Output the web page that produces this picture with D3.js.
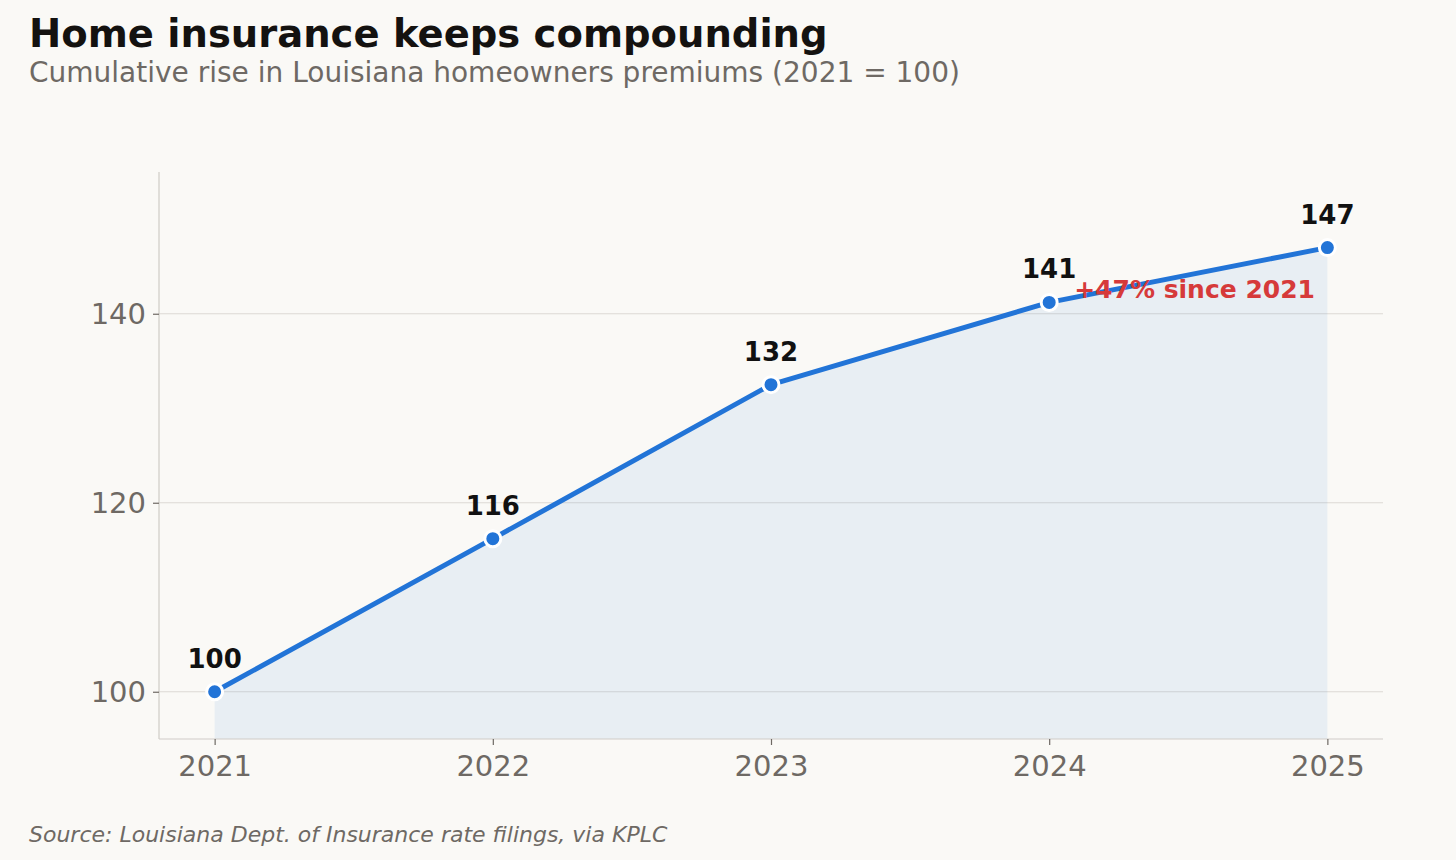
<!DOCTYPE html>
<html>
<head>
<meta charset="utf-8">
<script src="https://cdn.jsdelivr.net/npm/d3@7"></script>
<style>
  body { margin: 0; background: #faf9f6; }
  svg { display: block; font-family: "DejaVu Sans", sans-serif; }
</style>
</head>
<body>
<svg id="chart" width="1456" height="860"></svg>
<script>
const years = [2021, 2022, 2023, 2024, 2025]
const premiumIndex = [100, 116.2, 132.5, 141.2, 147]
const pointLabels = ["100", "116", "132", "141", "147"]
const yTicks = [100, 120, 140]

const margin = {top: 172, right: 73, bottom: 121, left: 159}
const width = 1456 - margin.left - margin.right
const height = 860 - margin.top - margin.bottom

const svg = d3.select('#chart')

svg.append('rect').attr('width', 1456).attr('height', 860).attr('fill', '#faf9f6')

svg.append('text')
  .attr('x', 29).attr('y', 47)
  .attr('font-size', 38.5).attr('font-weight', 'bold').attr('fill', '#141210')
  .text('Home insurance keeps compounding')

svg.append('text')
  .attr('x', 29).attr('y', 82)
  .attr('font-size', 28).attr('fill', '#6e6964')
  .text('Cumulative rise in Louisiana homeowners premiums (2021 = 100)')

svg.append('text')
  .attr('x', 29).attr('y', 842)
  .attr('font-size', 22).attr('font-style', 'italic').attr('fill', '#6e6964')
  .text('Source: Louisiana Dept. of Insurance rate filings, via KPLC')

const chart = svg.append('g')
  .attr('transform', `translate(${margin.left}, ${margin.top})`)

const x = d3.scaleLinear().domain([2020.8, 2025.2]).range([0, width])
const y = d3.scaleLinear().domain([95, 155]).range([height, 0])

const data = years.map((yr, i) => ({year: yr, value: premiumIndex[i], label: pointLabels[i]}))

// grid
chart.append('g')
  .selectAll('line')
  .data(yTicks)
  .join('line')
    .attr('x1', 0).attr('x2', width)
    .attr('y1', d => y(d)).attr('y2', d => y(d))
    .attr('stroke', '#dcd9d4').attr('stroke-width', 1.2)

// area
chart.append('path')
  .datum(data)
  .attr('fill', '#1f6fd6').attr('fill-opacity', 0.08)
  .attr('d', d3.area().x(d => x(d.year)).y0(height).y1(d => y(d.value)))

// axes
const yAxis = chart.append('g')
  .call(d3.axisLeft(y).tickValues(yTicks).tickSize(6).tickPadding(7))
const xAxis = chart.append('g')
  .attr('transform', `translate(0, ${height})`)
  .call(d3.axisBottom(x).tickValues(years).tickFormat(d3.format('d')).tickSize(6).tickPadding(10))

for (const ax of [yAxis, xAxis]) {
  ax.select('.domain').attr('stroke', '#cfccc7').attr('stroke-width', 1.2)
  ax.selectAll('.tick line').attr('stroke', '#6e6964').attr('stroke-width', 1.2)
  ax.selectAll('.tick text').attr('fill', '#6e6964').attr('font-size', 29)
    .attr('font-family', '"DejaVu Sans", sans-serif')
}
yAxis.select('.domain').attr('d', `M0,0V${height}`)
xAxis.select('.domain').attr('d', `M0,0H${width}`)

// line
chart.append('path')
  .datum(data)
  .attr('fill', 'none').attr('stroke', '#2274d7').attr('stroke-width', 5)
  .attr('stroke-linejoin', 'round')
  .attr('d', d3.line().x(d => x(d.year)).y(d => y(d.value)))

chart.append('g')
  .selectAll('circle')
  .data(data)
  .join('circle')
    .attr('cx', d => x(d.year)).attr('cy', d => y(d.value))
    .attr('r', 8)
    .attr('fill', '#2274d7').attr('stroke', '#ffffff').attr('stroke-width', 3)

chart.append('g')
  .selectAll('text')
  .data(data)
  .join('text')
    .attr('x', d => x(d.year)).attr('y', d => y(d.value) - 24)
    .attr('text-anchor', 'middle')
    .attr('font-size', 26).attr('font-weight', 'bold').attr('fill', '#111')
    .text(d => d.label)

// annotation
const last = data[data.length - 1]
chart.append('text')
  .attr('x', x(2024) + 25).attr('y', y(141.2) - 4)
  .attr('font-size', 25).attr('font-weight', 'bold').attr('fill', '#d63a3a')
  .text(`+${Math.round(last.value - data[0].value)}% since 2021`)
</script>
</body>
</html>
